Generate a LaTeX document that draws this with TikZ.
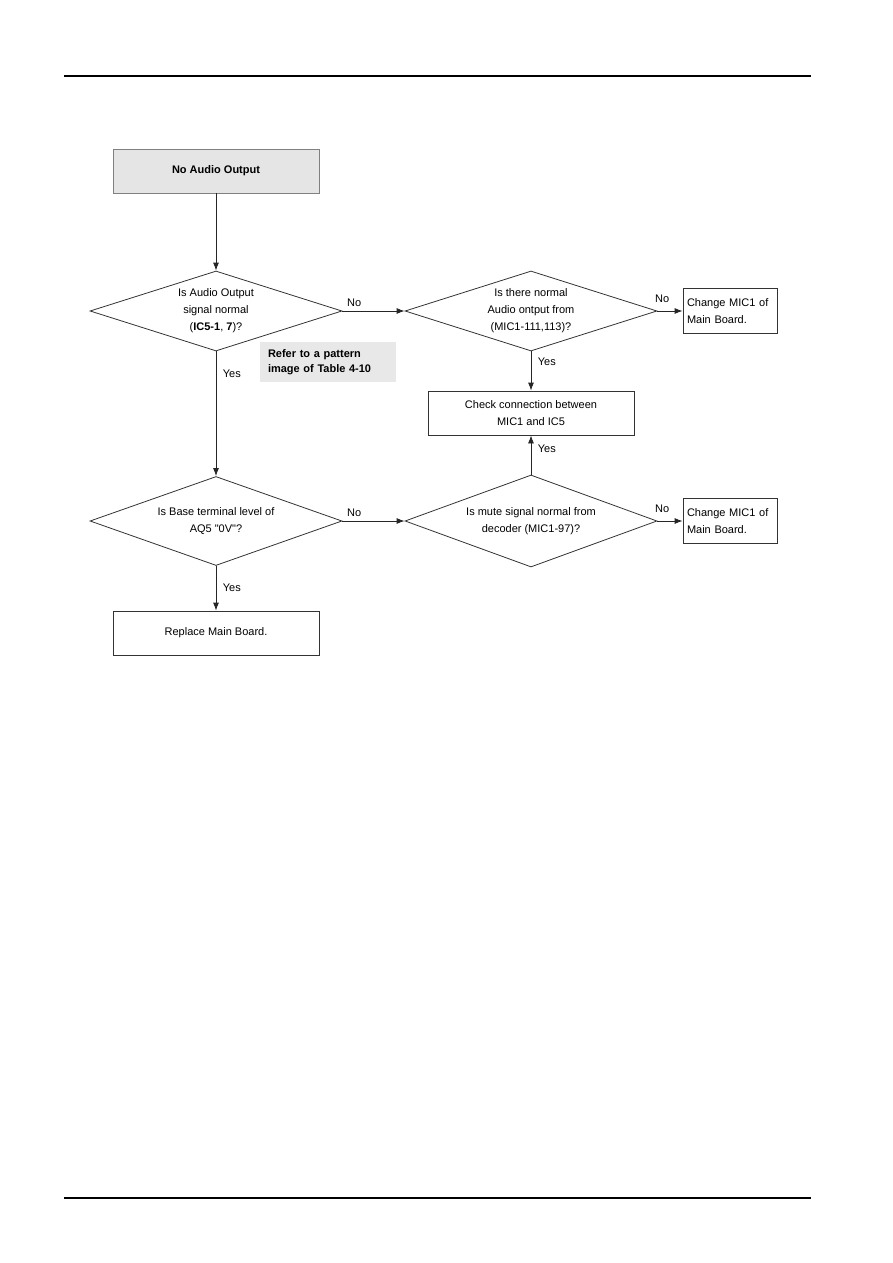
\documentclass[tikz,border=0pt]{standalone}
\usepackage{fontspec}
\setmainfont{Liberation Sans}[Ligatures=TeXOff]
\usetikzlibrary{shapes.geometric,arrows.meta}

\begin{document}
\begin{tikzpicture}[x=1pt,y=-1pt]
% Styles
\tikzstyle{fleche}=[->,>={Latex[length=8pt,width=6pt]},line width=0.8pt,draw=black!85]
\tikzstyle{boite}=[draw=black!80,rectangle,align=center,inner sep=0pt,line width=0.8pt,font=\fontsize{11}{17}\selectfont]
\tikzstyle{depart}=[boite,fill=black!10,draw=black!50,font=\bfseries\fontsize{11}{17}\selectfont]
\tikzstyle{changer}=[boite,align=left,text width=86pt,inner xsep=4pt,minimum height=45]
\tikzstyle{losange}=[draw=black!80,diamond,aspect=3.1,inner sep=0pt,align=center,line width=0.8pt,minimum width=252,minimum height=80,font=\fontsize{11}{17}\selectfont]
\tikzstyle{remarque}=[fill=black!9,align=left,text width=120pt,inner xsep=8pt,minimum height=40,font=\bfseries\fontsize{11}{15.5}\selectfont]
\tikzstyle{etiquette}=[inner sep=1.5pt,font=\fontsize{11}{13}\selectfont]
\tikzstyle{oui}=[etiquette,anchor=west,xshift=5pt]
\tikzstyle{non}=[etiquette,pos=0.19,above=2pt]
% Dimensions
\def\ColonneA{216}
\def\ColonneB{531}
\def\ColonneC{730}
\def\NiveauA{171}
\def\NiveauB{311}
\def\NiveauC{413}
\def\NiveauD{521}
\def\NiveauE{633}
\useasboundingbox (0,0) rectangle (893,1263);
% Filets de page
\draw[line width=1.2pt] (64,76) -- (811,76);
\draw[line width=1.2pt] (64,1198) -- (811,1198);
% Noeuds
\node[depart,minimum width=206,minimum height=44] (depart) at (\ColonneA,\NiveauA) {No Audio Output};
\node[losange] (Q1) at (\ColonneA,\NiveauB) {Is Audio Output\\signal normal\\(\textbf{IC5-1}, \textbf{7})?};
\node[losange] (Q2) at (\ColonneB,\NiveauB) {Is there normal\\Audio ontput from\\(MIC1-111,113)?};
\node[changer] (C1) at (\ColonneC,\NiveauB) {Change MIC1 of\\Main Board.};
\node[remarque] (note) at (328,362) {Refer to a pattern\\image of Table 4-10};
\node[boite,minimum width=206,minimum height=44] (verif) at (\ColonneB,\NiveauC) {Check connection between\\MIC1 and IC5};
\node[losange,minimum height=89] (Q3) at (\ColonneA,\NiveauD) {Is Base terminal level of\\AQ5 "0V"?};
\node[losange,minimum height=92] (Q4) at (\ColonneB,\NiveauD) {Is mute signal normal from\\decoder (MIC1-97)?};
\node[changer] (C2) at (\ColonneC,\NiveauD) {Change MIC1 of\\Main Board.};
\node[boite,minimum width=206,minimum height=44] (remplacer) at (\ColonneA,\NiveauE) {Replace Main Board.};
% Arcs
\draw[fleche] (depart.south)--(Q1.north);
\draw[fleche] (Q1.east)--(Q2.west) node[non] {No};
\draw[fleche] (Q2.east)--(C1.west) node[non,above=4pt] {No};
\draw[fleche] (Q1.south)--(Q3.north) node[oui,pos=0.18] {Yes};
\draw[fleche] (Q2.south)--(verif.north) node[oui,pos=0.27] {Yes};
\draw[fleche] (Q4.north)--(verif.south) node[oui,pos=0.67] {Yes};
\draw[fleche] (Q3.east)--(Q4.west) node[non] {No};
\draw[fleche] (Q4.east)--(C2.west) node[non,above=4pt] {No};
\draw[fleche] (Q3.south)--(remplacer.north) node[oui,pos=0.48] {Yes};
\end{tikzpicture}
\end{document}
